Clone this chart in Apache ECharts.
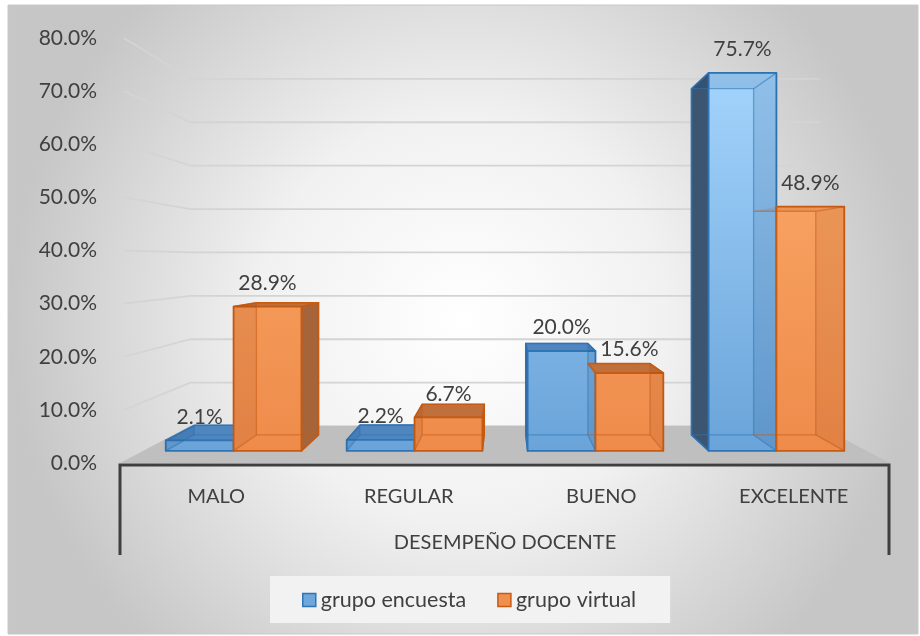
<!DOCTYPE html>
<html>
<head>
<meta charset="utf-8">
<style>
html, body { margin: 0; padding: 0; background: #fff; }
#chart { width: 920px; height: 636px; }
</style>
<script src="https://cdn.jsdelivr.net/npm/echarts@6/dist/echarts.min.js"></script>
</head>
<body>
<div id="chart"></div>
<script>
var categories = ['MALO', 'REGULAR', 'BUENO', 'EXCELENTE'];
var encuesta = [2.1, 2.2, 20.0, 75.7];
var virtual = [28.9, 6.7, 15.6, 48.9];
var yTicks = [0, 10, 20, 30, 40, 50, 60, 70, 80];

var FONT = 'Lato';
var TEXT = '#404040';
// fake perspective: a point p of the floor's front plane goes to vp + (p - vp) * s
var EYE_VALUE = 38;      // height of the vanishing point, in axis units
var S_WALL = 0.817;      // back wall
var S_FRONT = 0.94;      // front of the bars
var S_BACK = 0.861;      // back of the bars
var BAR_W = 0.375;       // part of a category taken by one bar

var chart = echarts.init(document.getElementById('chart'));

function proj(vp, p, s) {
  return [vp[0] + (p[0] - vp[0]) * s, vp[1] + (p[1] - vp[1]) * s];
}
function getVp(params, api) {
  var cs = params.coordSys;
  return [cs.x + cs.width / 2, api.coord([0, EYE_VALUE])[1]];
}

function renderGridLine(params, api) {
  var cs = params.coordSys, vp = getVp(params, api);
  var y = api.coord([0, api.value(1)])[1];
  var a = [cs.x + 4, y];
  var b = proj(vp, [cs.x, y], S_WALL);
  var c = proj(vp, [cs.x + cs.width, y], S_WALL);
  return {
    type: 'polyline', silent: true,
    shape: { points: [a, b, c] },
    style: { stroke: '#d4d4d4', lineWidth: 1.8, fill: null }
  };
}

function renderFloor(params, api) {
  var cs = params.coordSys, vp = getVp(params, api);
  var y0 = api.coord([0, 0])[1];
  var l = cs.x, r = cs.x + cs.width;
  return {
    type: 'group', silent: true,
    children: [
      { type: 'polygon', shape: { points: [[l, y0], [r, y0], proj(vp, [r, y0], S_WALL), proj(vp, [l, y0], S_WALL)] },
        style: { fill: '#bfbfbf' } },
      { type: 'polyline', shape: { points: [[l, y0 + 92], [l, y0 + 2], [r - 1, y0 + 2], [r - 1, y0 + 92]] },
        style: { stroke: '#3f3f3f', lineWidth: 3, fill: null } }
    ]
  };
}

function gradient(api, top, bottom) {
  var yTop = api.coord([0, 80])[1], yBot = api.coord([0, 0])[1];
  return new echarts.graphic.LinearGradient(0, yTop, 0, yBot, [
    { offset: 0, color: top }, { offset: 1, color: bottom }
  ], true);
}

function makeBar(side, c) {
  return function (params, api) {
    var vp = getVp(params, api);
    var cat = api.value(0), val = api.value(1);
    var top = api.coord([cat, val]), base = api.coord([cat, 0]);
    var w = api.size([1, 0])[0] * BAR_W;
    var x0 = side === 0 ? top[0] - w : top[0], x1 = x0 + w;
    var yT = top[1], yB = base[1];
    function P(x, y, s) { return proj(vp, [x, y], s); }
    function face(pts, fill, stroke, lw) {
      return { type: 'polygon', shape: { points: pts },
        style: { fill: fill, stroke: stroke, lineWidth: lw || 1.5, lineJoin: 'round' } };
    }
    function edge(a, b) {
      return { type: 'line', shape: { x1: a[0], y1: a[1], x2: b[0], y2: b[1] },
        style: { stroke: c.soft, lineWidth: 1.3 } };
    }
    var fTL = P(x0, yT, S_FRONT), fTR = P(x1, yT, S_FRONT), fBR = P(x1, yB, S_FRONT), fBL = P(x0, yB, S_FRONT);
    var bTL = P(x0, yT, S_BACK), bTR = P(x1, yT, S_BACK), bBR = P(x1, yB, S_BACK), bBL = P(x0, yB, S_BACK);
    var leftInside = x0 < vp[0], rightInside = x1 > vp[0];
    var topSeen = yT > vp[1];
    var kids = [];
    // outer side that faces the eye (the one next to the other bar is hidden by it)
    if (!leftInside && side === 0) kids.push(face([fTL, bTL, bBL, fBL], c.side, c.edge));
    if (!rightInside && side === 1) kids.push(face([fTR, bTR, bBR, fBR], c.side, c.edge));
    if (topSeen) kids.push(face([fTL, fTR, bTR, bTL], c.top, c.edge));
    kids.push(face([fTL, fTR, fBR, fBL], gradient(api, c.light, c.front), c.edge, 1.8));
    // faces seen through the front
    if (leftInside) kids.push(face([fTL, bTL, bBL, fBL], c.tint, null));
    if (rightInside) kids.push(face([fTR, bTR, bBR, fBR], c.tint, null));
    if (!topSeen) kids.push(face([fTL, fTR, bTR, bTL], c.tint, null));
    // hidden edges
    kids.push(edge(bTL, bTR), edge(bBL, bBR));
    var showLeft = leftInside || side === 0, showRight = rightInside || side === 1;
    if (showLeft) kids.push(edge(bTL, bBL), edge(fBL, bBL), edge(fTL, bTL));
    if (showRight) kids.push(edge(bTR, bBR), edge(fBR, bBR), edge(fTR, bTR));
    var lp = P((x0 + x1) / 2, yT - 25, S_FRONT);
    kids.push({ type: 'text', x: lp[0], y: lp[1],
      style: { text: val.toFixed(1) + '%', fill: TEXT, fontFamily: FONT, fontSize: 21,
        align: 'center', verticalAlign: 'middle' } });
    return { type: 'group', children: kids };
  };
}

var blue = { front: '#68a2d8', light: '#a8d8ff', edge: '#2f74b5', soft: 'rgba(47,116,181,0.55)',
  side: '#3c5571', top: '#4f86bf', tint: 'rgba(20,60,110,0.13)' };
var orange = { front: '#ee8a4a', light: '#fdb06e', edge: '#c65b12', soft: 'rgba(198,91,18,0.55)',
  side: '#a6643b', top: '#c0703d', tint: 'rgba(120,50,10,0.10)' };

function pairs(arr) {
  return arr.map(function (v, i) { return [i, v]; });
}

var option = {
  animation: false,
  graphic: [{
    type: 'rect', z: -10, silent: true,
    shape: { x: 8, y: 5, width: 910, height: 629 },
    style: {
      fill: new echarts.graphic.RadialGradient(0.5, 0.5, 0.72, [
        { offset: 0, color: '#ffffff' }, { offset: 0.45, color: '#f1f1f1' }, { offset: 1, color: '#c6c6c6' }
      ]),
      stroke: '#c8c8c8', lineWidth: 1
    }
  }],
  grid: { left: 120, right: 30, top: 38, bottom: 173 },
  legend: {
    bottom: 13, left: 270,
    backgroundColor: '#f2f2f2',
    padding: [13, 34, 12, 32],
    itemWidth: 13, itemHeight: 13, itemGap: 31,
    textStyle: { fontFamily: FONT, fontSize: 21.5, color: TEXT },
    data: [
      { name: 'grupo encuesta', icon: 'rect', itemStyle: { color: '#6ea7dc', borderColor: blue.edge, borderWidth: 1.5 } },
      { name: 'grupo virtual', icon: 'rect', itemStyle: { color: '#f0904f', borderColor: orange.edge, borderWidth: 1.5 } }
    ]
  },
  xAxis: {
    type: 'category', data: categories,
    axisLine: { show: false }, axisTick: { show: false },
    axisLabel: { margin: 24, fontFamily: FONT, fontSize: 20, color: TEXT },
    name: 'DESEMPEÑO DOCENTE', nameLocation: 'middle', nameGap: 70,
    nameTextStyle: { fontFamily: FONT, fontSize: 20, color: TEXT }
  },
  yAxis: {
    type: 'value', min: 0, max: 80, interval: 10,
    axisLine: { show: false }, axisTick: { show: false }, splitLine: { show: false },
    axisLabel: { margin: 23, fontFamily: FONT, fontSize: 21, color: TEXT,
      formatter: function (v) { return v.toFixed(1) + '%'; } }
  },
  series: [
    { name: 'walls', type: 'custom', clip: false, silent: true, renderItem: renderGridLine,
      data: yTicks.map(function (v) { return [0, v]; }), encode: { x: 0, y: 1 } },
    { name: 'floor', type: 'custom', clip: false, silent: true, renderItem: renderFloor,
      data: [[0, 0]], encode: { x: 0, y: 1 } },
    { name: 'grupo encuesta', type: 'custom', clip: false, renderItem: makeBar(0, blue),
      itemStyle: { color: '#6ea7dc' }, data: pairs(encuesta), encode: { x: 0, y: 1 } },
    { name: 'grupo virtual', type: 'custom', clip: false, renderItem: makeBar(1, orange),
      itemStyle: { color: '#f0904f' }, data: pairs(virtual), encode: { x: 0, y: 1 } }
  ]
};

chart.setOption(option);
window.addEventListener('resize', chart.resize);
</script>
</body>
</html>
